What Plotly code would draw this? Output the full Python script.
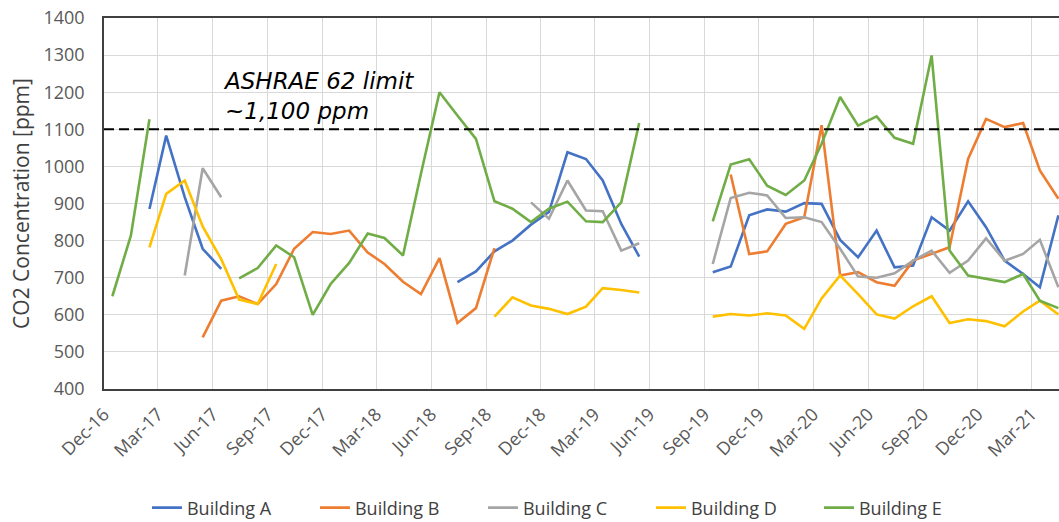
import plotly.graph_objects as go

# ---------------- data ----------------
months = [
    "2016-12-15",
    "2017-01-15", "2017-02-15", "2017-03-15", "2017-04-15", "2017-05-15", "2017-06-15",
    "2017-07-15", "2017-08-15", "2017-09-15", "2017-10-15", "2017-11-15", "2017-12-15",
    "2018-01-15", "2018-02-15", "2018-03-15", "2018-04-15", "2018-05-15", "2018-06-15",
    "2018-07-15", "2018-08-15", "2018-09-15", "2018-10-15", "2018-11-15", "2018-12-15",
    "2019-01-15", "2019-02-15", "2019-03-15", "2019-04-15", "2019-05-15", "2019-06-15",
    "2019-07-15", "2019-08-15", "2019-09-15", "2019-10-15", "2019-11-15", "2019-12-15",
    "2020-01-15", "2020-02-15", "2020-03-15", "2020-04-15", "2020-05-15", "2020-06-15",
    "2020-07-15", "2020-08-15", "2020-09-15", "2020-10-15", "2020-11-15", "2020-12-15",
    "2021-01-15", "2021-02-15", "2021-03-15", "2021-04-15",
]
N = None

building_a = [
    N,
    N, 885, 1083, 917, 778, 724,
    N, N, N, N, N, N,
    N, N, N, N, N, N,
    688, 717, 771, 800, 843, 877,
    1038, 1020, 962, 845, 757, N,
    N, N, 715, 730, 868, 884,
    878, 901, 899, 802, 755, 827,
    728, 733, 863, 827, 906, 836,
    746, 710, 674, 868,
]
building_b = [
    N,
    N, N, N, N, 539, 638,
    650, 629, 683, 778, 823, 818,
    827, 768, 737, 689, 656, 753,
    578, 618, 780, N, N, N,
    N, N, N, N, N, N,
    N, N, N, 978, 764, 771,
    845, 863, 1111, 706, 715, 688,
    678, 746, 764, 782, 1020, 1128,
    1106, 1117, 989, 913,
]
building_c = [
    N,
    N, N, N, 706, 995, 917,
    N, N, N, N, N, N,
    N, N, N, N, N, N,
    N, N, N, N, 903, 859,
    962, 881, 879, 773, 793, N,
    N, N, 737, 915, 929, 922,
    861, 863, 850, 778, 703, 700,
    712, 746, 773, 713, 746, 806,
    746, 764, 802, 674,
]
building_d = [
    N,
    N, 782, 926, 962, 838, 750,
    641, 629, 737, N, N, N,
    N, N, N, N, N, N,
    N, N, 595, 647, 625, 616,
    602, 622, 672, 667, 660, N,
    N, N, 595, 602, 598, 604,
    598, 562, 644, 706, 656, 601,
    590, 623, 650, 578, 588, 583,
    569, 609, 638, 601,
]
building_e = [
    650,
    814, 1127, N, N, N, N,
    698, 726, 787, 755, 600, 683,
    740, 819, 807, 760, 980, 1200,
    1137, 1074, 906, 886, 850, 886,
    905, 852, 850, 903, 1117, N,
    N, N, 852, 1005, 1019, 948,
    923, 962, 1061, 1187, 1110, 1135,
    1077, 1061, 1299, 773, 706, 697,
    688, 710, 638, 618,
]

series_names = ["Building A", "Building B", "Building C", "Building D", "Building E"]
series_values = [building_a, building_b, building_c, building_d, building_e]
series_colors = ["#4472C4", "#ED7D31", "#A5A5A5", "#FFC000", "#70AD47"]

tick_dates = [
    "2016-12-01", "2017-03-01", "2017-06-01", "2017-09-01", "2017-12-01",
    "2018-03-01", "2018-06-01", "2018-09-01", "2018-12-01", "2019-03-01",
    "2019-06-01", "2019-09-01", "2019-12-01", "2020-03-01", "2020-06-01",
    "2020-09-01", "2020-12-01", "2021-03-01",
]
tick_labels = [
    "Dec-16", "Mar-17", "Jun-17", "Sep-17", "Dec-17", "Mar-18", "Jun-18",
    "Sep-18", "Dec-18", "Mar-19", "Jun-19", "Sep-19", "Dec-19", "Mar-20",
    "Jun-20", "Sep-20", "Dec-20", "Mar-21",
]
y_ticks = [400, 500, 600, 700, 800, 900, 1000, 1100, 1200, 1300, 1400]
limit_value = 1100
limit_text = "ASHRAE 62 limit<br>~1,100 ppm"

# ---------------- figure ----------------
fig = go.Figure()
for name, vals, col in zip(series_names, series_values, series_colors):
    fig.add_trace(go.Scatter(
        x=months, y=vals, name=name, mode="lines",
        line=dict(color=col, width=2.6), connectgaps=False,
    ))

fig.add_shape(type="line", xref="paper", x0=0, x1=1, yref="y",
              y0=limit_value, y1=limit_value,
              line=dict(color="black", width=2, dash="10px,5px"), layer="above")

fig.add_annotation(text=limit_text, xref="paper", x=0.122, yref="y", y=limit_value,
                   xanchor="left", yanchor="bottom", yshift=3, align="left",
                   showarrow=False,
                   font=dict(family="DejaVu Sans", size=23, color="black", style="italic"))

tick_font = dict(family="Open Sans", size=18, color="#595959")

fig.update_layout(
    width=1059, height=522,
    margin=dict(l=104, r=0, t=18, b=133, autoexpand=False),
    paper_bgcolor="white", plot_bgcolor="white",
    showlegend=True,
    legend=dict(orientation="h", x=0.045, xanchor="left",
                yref="container", y=0.027, yanchor="middle",
                entrywidth=123, entrywidthmode="pixels",
                font=dict(family="Open Sans", size=18, color="#404040"),
                bgcolor="rgba(0,0,0,0)"),
    xaxis=dict(
        type="date", range=["2016-12-01", "2021-04-16"],
        tickmode="array", tickvals=tick_dates, ticktext=tick_labels,
        tickangle=-45, tickfont=tick_font, ticks="", ticklabelstandoff=6,
        showgrid=True, gridcolor="#D9D9D9", gridwidth=1,
        showline=True, linecolor="#404040", linewidth=1.5, mirror=True,
        zeroline=False,
    ),
    yaxis=dict(
        range=[400, 1400], tickmode="array", tickvals=y_ticks,
        tickfont=tick_font, ticks="", ticklabelstandoff=14,
        showgrid=True, gridcolor="#D9D9D9", gridwidth=1,
        showline=True, linecolor="#404040", linewidth=1.5,
        zeroline=False,
        title=dict(text="CO2 Concentration [ppm]",
                   font=dict(family="Open Sans", size=21, color="#404040"),
                   standoff=8),
    ),
)

fig.write_html("out.html", config={"displayModeBar": False},
               post_script="document.body.style.margin='0';")
